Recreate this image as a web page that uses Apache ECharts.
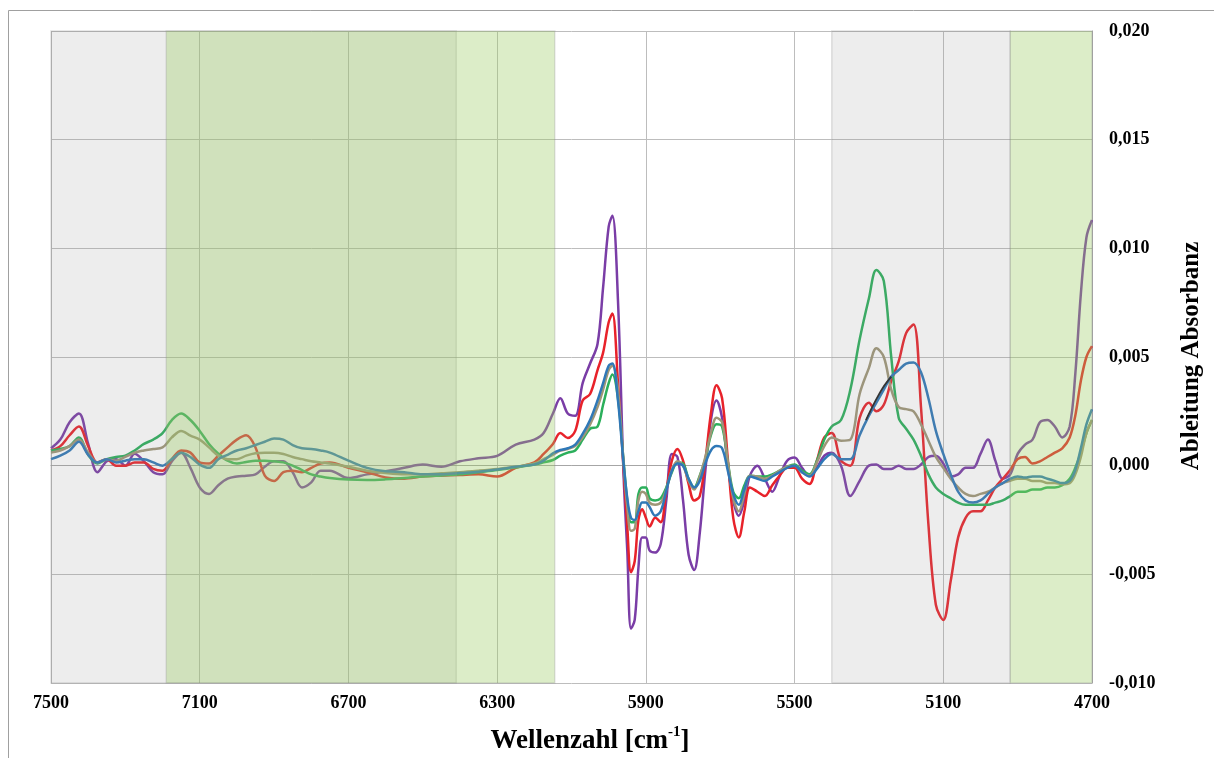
<!DOCTYPE html>
<html>
<head>
<meta charset="utf-8">
<title>Ableitung Absorbanz</title>
<script src="https://cdn.jsdelivr.net/npm/echarts@6/dist/echarts.min.js"></script>
<style>
  html, body { margin: 0; padding: 0; background: #fff; }
  #chart { width: 1214px; height: 758px; }
</style>
</head>
<body>
<div id="chart"></div>
<script>
  // wavenumbers [cm-1], shared by all curves
  const wavenumbers = [
    7500, 7475, 7450, 7425, 7400, 7375, 7350, 7325, 7300, 7275, 7250, 7225, 7200, 7175, 7150, 7125, 7100, 7075, 7050, 7025, 7000,
    6975, 6950, 6925, 6900, 6875, 6850, 6825, 6800, 6775, 6750, 6700, 6650, 6600, 6550, 6500, 6450, 6400, 6350, 6300, 6250, 6200, 6175,
    6150, 6130, 6110, 6090, 6070, 6050, 6030, 6015, 6000, 5990, 5975, 5960, 5950, 5940, 5930, 5920, 5910, 5900, 5890, 5875, 5860, 5845,
    5830, 5815, 5800, 5785, 5770, 5755, 5740, 5725, 5710, 5695, 5680, 5665, 5650, 5635, 5620, 5600, 5580, 5560, 5540, 5520, 5500,
    5480, 5460, 5440, 5420, 5400, 5375, 5350, 5325, 5300, 5280, 5260, 5240, 5220, 5200, 5180, 5160, 5140, 5120, 5100, 5080, 5060, 5040,
    5020, 5000, 4980, 4960, 4940, 4920, 4900, 4880, 4860, 4840, 4820, 4800, 4780, 4760, 4745, 4730, 4715, 4700
  ]

  const purple = [
    0.0008, 0.0012, 0.0020, 0.0024, 0.0010, -0.0003, 0.0002, 0.0003, 0.0000, 0.00055, 0.0002, -0.0003, -0.0004, 0.0002, 0.0006, -0.0001, -0.0010, -0.0013, -0.0009, -0.0006, -0.0005,
    -0.00046, -0.0004, -0.00005, 0.0002, 0.0002, -0.0003, -0.0010, -0.00077, -0.00023, -0.00023, -0.00057, -0.0004, -0.00026, -0.0001, 0.00005, -0.00005, 0.0002, 0.00034, 0.00045, 0.00097, 0.0012, 0.0015,
    0.0024, 0.0031, 0.0024, 0.0023, 0.0038, 0.0047, 0.0056, 0.0082, 0.0110, 0.0115, 0.0076, -0.0004, -0.0039, -0.0075, -0.0071, -0.0047, -0.0033, -0.0033, -0.0039, -0.0040, -0.0036, -0.0016,
    0.00054, 0.0004, -0.0016, -0.0041, -0.0048, -0.0031, -0.00023, 0.0021, 0.0030, 0.0022, 0.0001, -0.0016, -0.0023, -0.0016, -0.00046, 0.0000, -0.0006, -0.0012, -0.00046, 0.00023, 0.00038,
    -0.0001, -0.00046, -0.0001, 0.00046, 0.0006, 0.0000, -0.0014, -0.0007, 0.0000, 0.00005, -0.00015, -0.00015, 0.0000, -0.00015, -0.00015, 0.00005, 0.0004, 0.00046, 0.0001, -0.0005, -0.0004, -0.0001,
    -0.0001, 0.00054, 0.0012, 0.00023, -0.0006, -0.0004, 0.00054, 0.00097, 0.0012, 0.0020, 0.0021, 0.0018, 0.0013, 0.0018, 0.0042, 0.0079, 0.0105, 0.0113
  ]

  const red = [
    0.0007, 0.0009, 0.0014, 0.0018, 0.0009, 0.00015, 0.0003, 0.0000, 0.0000, 0.00015, 0.00015, -0.00015, -0.00023, 0.0003, 0.0007, 0.0006, 0.00015, 0.0001, 0.00046, 0.00084, 0.0012,
    0.0014, 0.00084, -0.00046, -0.0007, -0.0003, -0.00023, -0.0003, -0.0001, 0.0001, 0.00015, -0.0001, -0.0003, -0.00054, -0.0006, -0.0005, -0.00046, -0.00043, -0.0004, -0.0005, -0.0001, 0.00015, 0.00054,
    0.0010, 0.0015, 0.00127, 0.0016, 0.0030, 0.0033, 0.0044, 0.0052, 0.0066, 0.0070, 0.0038, -0.0001, -0.0028, -0.0049, -0.0044, -0.0025, -0.0020, -0.0024, -0.0028, -0.0024, -0.0026, -0.00115,
    0.00023, 0.00077, 0.00023, -0.00084, -0.0016, -0.0014, 0.00023, 0.0024, 0.0037, 0.0031, 0.0004, -0.0024, -0.0033, -0.0021, -0.0010, -0.0012, -0.0014, -0.0009, -0.00046, -0.0001, -0.0001,
    -0.0006, -0.00084, 0.00023, 0.0013, 0.0015, 0.00023, 0.0000, 0.0022, 0.0029, 0.0025, 0.0028, 0.0039, 0.0048, 0.0061, 0.0065, 0.0027, -0.0027, -0.0064, -0.0071, -0.0053, -0.0033, -0.0024,
    -0.0021, -0.0021, -0.0016, -0.0010, -0.0006, -0.0002, 0.0003, 0.0004, 0.0001, 0.0002, 0.0004, 0.0006, 0.0008, 0.0013, 0.0023, 0.0039, 0.0050, 0.0055
  ]

  const blue = [
    0.0003, 0.00046, 0.0007, 0.0011, 0.0005, 0.00015, 0.0003, 0.00015, 0.00023, 0.0003, 0.0003, 0.00015, 0.0000, 0.0003, 0.0006, 0.0004, 0.00005, -0.0001, 0.0003, 0.0005, 0.0007,
    0.0008, 0.00095, 0.0011, 0.00125, 0.0012, 0.00095, 0.0008, 0.00077, 0.0007, 0.0006, 0.00023, -0.0001, -0.00026, -0.0003, -0.0004, -0.0004, -0.00034, -0.00028, -0.00018, -0.00005, 0.00005, 0.00023,
    0.00057, 0.00072, 0.0008, 0.00097, 0.00146, 0.0021, 0.0030, 0.0038, 0.0046, 0.0047, 0.0030, 0.0001, -0.0015, -0.0024, -0.0025, -0.0021, -0.0017, -0.0017, -0.0019, -0.0023, -0.0021, -0.00115,
    -0.00023, 0.0001, 0.0000, -0.0006, -0.0010, -0.0007, 0.0001, 0.0007, 0.0009, 0.0008, -0.0002, -0.0013, -0.0018, -0.0011, -0.0005, -0.0006, -0.0007, -0.0005, -0.0003, -0.0001, 0.0000,
    -0.0003, -0.0005, -0.00015, 0.0003, 0.00054, 0.0003, 0.0003, 0.0014, 0.0023, 0.0029, 0.0035, 0.0041, 0.0044, 0.0047, 0.00475, 0.0043, 0.0031, 0.0016, 0.00054, -0.0004, -0.0012, -0.0016,
    -0.0017, -0.0016, -0.0013, -0.0010, -0.0008, -0.0006, -0.0005, -0.00055, -0.0005, -0.0005, -0.0006, -0.0007, -0.0008, -0.0007, -0.0002, 0.0008, 0.0019, 0.0026
  ]

  const tan = [
    0.0006, 0.0007, 0.0009, 0.0012, 0.0006, 0.00015, 0.0003, 0.00023, 0.0004, 0.0006, 0.0007, 0.00077, 0.00084, 0.0013, 0.0016, 0.00138, 0.0012, 0.00084, 0.00046, 0.0003, 0.0003,
    0.00046, 0.00057, 0.0006, 0.0006, 0.00054, 0.0004, 0.0003, 0.0002, 0.00015, 0.0001, -0.00005, -0.00023, -0.00034, -0.0004, -0.0004, -0.00035, -0.0003, -0.00023, -0.00015, -0.00005, 0.0001, 0.0003,
    0.0005, 0.00069, 0.00077, 0.0009, 0.0013, 0.0019, 0.0027, 0.0035, 0.0044, 0.0046, 0.0035, 0.0001, -0.0019, -0.0030, -0.0029, -0.0016, -0.0012, -0.0013, -0.0017, -0.0018, -0.0017, -0.0011,
    -0.0002, 0.0002, 0.0000, -0.0007, -0.0011, -0.0005, 0.0004, 0.0015, 0.0022, 0.0020, 0.00023, -0.0015, -0.0021, -0.0013, -0.00046, -0.0005, -0.0006, -0.00046, -0.00023, -0.00005, 0.0000,
    -0.0003, -0.00046, 0.00015, 0.0009, 0.0013, 0.00115, 0.0012, 0.0033, 0.0045, 0.0054, 0.0050, 0.0035, 0.0027, 0.0026, 0.0025, 0.0019, 0.00115, 0.0004, -0.0001, -0.0006, -0.0010, -0.0013,
    -0.0014, -0.0013, -0.0012, -0.0010, -0.0008, -0.0007, -0.0006, -0.0006, -0.0007, -0.0007, -0.0008, -0.0008, -0.00085, -0.0008, -0.0004, 0.0004, 0.0015, 0.0021
  ]

  const green = [
    0.0007, 0.00077, 0.0009, 0.0013, 0.0005, 0.0001, 0.0003, 0.0004, 0.00046, 0.0007, 0.0010, 0.0012, 0.0015, 0.0021, 0.0024, 0.0021, 0.0016, 0.0010, 0.00055, 0.00023, 0.0001,
    0.00017, 0.00023, 0.00023, 0.0002, 0.00015, 0.0000, -0.0002, -0.0004, -0.0005, -0.00057, -0.00064, -0.00066, -0.00063, -0.00057, -0.0005, -0.00045, -0.0004, -0.0003, -0.0002, -0.00008, 0.00005, 0.00015,
    0.00026, 0.00046, 0.0006, 0.0007, 0.0012, 0.0017, 0.0018, 0.0028, 0.0038, 0.0042, 0.0031, 0.00023, -0.0016, -0.0026, -0.0026, -0.0013, -0.0010, -0.0010, -0.0015, -0.0016, -0.0015, -0.0010,
    -0.0003, 0.00015, 0.0001, -0.0006, -0.0010, -0.00046, 0.0003, 0.0014, 0.0019, 0.0018, 0.00023, -0.0012, -0.0015, -0.0009, -0.00046, -0.0005, -0.0005, -0.0004, -0.00023, -0.00005, 0.00005,
    -0.00023, -0.0004, 0.00023, 0.0012, 0.0018, 0.0021, 0.0035, 0.0058, 0.0077, 0.0090, 0.0085, 0.0050, 0.0022, 0.0017, 0.0012, 0.00046, -0.0004, -0.0010, -0.0013, -0.0015, -0.0017, -0.0018,
    -0.0018, -0.0018, -0.0018, -0.0017, -0.0016, -0.0014, -0.0012, -0.0012, -0.0011, -0.0011, -0.0010, -0.0010, -0.0009, -0.0006, -0.0001, 0.0006, 0.0015, 0.0021
  ]

  // short dark curve that shows only where it leaves the blue one
  const blackWavenumbers = [5308, 5285, 5262, 5240]
  const black = [0.0021, 0.0029, 0.0036, 0.0041]

  // shaded wavenumber ranges [from, to, colour]
  const bands = [
    [7500, 6410, 'rgba(150,150,150,0.17)'],
    [7190, 6145, 'rgba(155,204,98,0.35)'],
    [5400, 4920, 'rgba(150,150,150,0.17)'],
    [4920, 4700, 'rgba(155,204,98,0.35)']
  ]

  const xTicks = { min: 4700, max: 7500, step: 400 }
  const yTicks = { min: -0.010, max: 0.020, step: 0.005 }

  const serifFont = '"Times New Roman", "Liberation Serif", serif'

  const curves = [
    { name: 'purple', x: wavenumbers, data: purple, color: '#7A3DA6', width: 2.5 },
    { name: 'red', x: wavenumbers, data: red, color: '#E8222A', width: 2.5 },
    { name: 'green', x: wavenumbers, data: green, color: '#2BAF5B', width: 2.5 },
    { name: 'tan', x: wavenumbers, data: tan, color: '#9E9677', width: 2.5 },
    { name: 'blue', x: wavenumbers, data: blue, color: '#2F78B7', width: 2.5 },
    { name: 'black', x: blackWavenumbers, data: black, color: '#222222', width: 1.8 }
  ]

  const chart = echarts.init(document.getElementById('chart'))

  const lineSeries = curves.map(c => ({
    type: 'line',
    name: c.name,
    data: c.x.map((w, i) => [w, c.data[i]]),
    showSymbol: false,
    smooth: 0.35,
    lineStyle: { color: c.color, width: c.width },
    itemStyle: { color: c.color },
    animation: false,
    z: 3
  }))

  const bandSeries = {
    type: 'custom',
    name: 'bands',
    data: bands.map(b => [b[0], b[1]]),
    z: 5,
    silent: true,
    animation: false,
    renderItem: (params, api) => {
      const b = bands[params.dataIndex]
      const p1 = api.coord([b[0], yTicks.max])
      const p2 = api.coord([b[1], yTicks.min])
      return {
        type: 'rect',
        shape: {
          x: Math.min(p1[0], p2[0]),
          y: p1[1],
          width: Math.abs(p2[0] - p1[0]),
          height: p2[1] - p1[1]
        },
        style: { fill: b[2], stroke: 'rgba(140,140,140,0.25)', lineWidth: 1.5 }
      }
    }
  }

  const option = {
    backgroundColor: '#fff',
    animation: false,
    grid: { left: 51, right: 122, top: 31, bottom: 75 },
    xAxis: {
      type: 'value',
      inverse: true,
      min: xTicks.min,
      max: xTicks.max,
      interval: xTicks.step,
      axisLine: { show: true, lineStyle: { color: '#A6A6A6', width: 1 } },
      axisTick: { show: false },
      splitLine: { show: true, lineStyle: { color: '#BDBDBD', width: 1 } },
      axisLabel: {
        margin: 11,
        color: '#000',
        fontFamily: serifFont,
        fontWeight: 'bold',
        fontSize: 18,
        formatter: v => String(v)
      }
    },
    yAxis: {
      type: 'value',
      position: 'right',
      min: yTicks.min,
      max: yTicks.max,
      interval: yTicks.step,
      axisLine: { show: true, lineStyle: { color: '#A6A6A6', width: 1 } },
      axisTick: { show: false },
      splitLine: { show: true, lineStyle: { color: '#BDBDBD', width: 1 } },
      axisLabel: {
        margin: 17,
        color: '#000',
        fontFamily: serifFont,
        fontWeight: 'bold',
        fontSize: 18,
        formatter: v => (Math.abs(v) < 1e-9 ? 0 : v).toFixed(3).replace('.', ',')
      }
    },
    graphic: [
      {
        type: 'rect',
        silent: true,
        shape: { x: 8.5, y: 10.5, width: 1300, height: 900 },
        style: { fill: 'none', stroke: '#A0A0A0', lineWidth: 1 }
      },
      {
        type: 'text',
        x: 590,
        y: 741,
        style: {
          text: '{b|Wellenzahl [cm}{s|-1}{b|]}',
          align: 'center',
          verticalAlign: 'middle',
          fill: '#000',
          rich: {
            b: { fontFamily: serifFont, fontWeight: 'bold', fontSize: 27, lineHeight: 32, fill: '#000' },
            s: { fontFamily: serifFont, fontWeight: 'bold', fontSize: 15, lineHeight: 32, verticalAlign: 'top', padding: [0, 0, 14, 0], fill: '#000' }
          }
        }
      },
      {
        type: 'text',
        x: 1192,
        y: 356,
        rotation: Math.PI / 2,
        style: {
          text: 'Ableitung Absorbanz',
          align: 'center',
          verticalAlign: 'middle',
          fill: '#000',
          fontFamily: serifFont,
          fontWeight: 'bold',
          fontSize: 25
        }
      }
    ],
    series: [...lineSeries, bandSeries]
  }

  chart.setOption(option)
</script>
</body>
</html>
